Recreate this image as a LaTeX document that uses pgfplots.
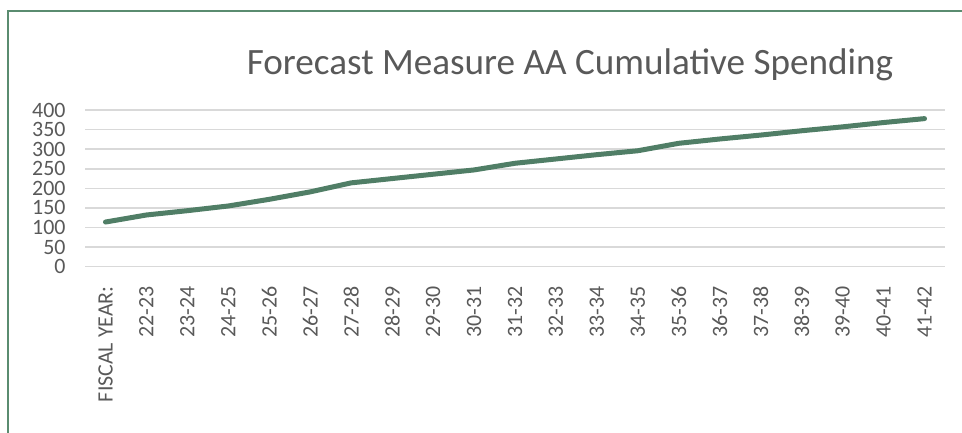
\documentclass[border=0pt]{standalone}
\usepackage{pgfplots}
\pgfplotsset{compat=1.18}
\usepackage{fontspec}
\setmainfont{Carlito}
\definecolor{linegreen}{RGB}{80,126,102}
\definecolor{framegreen}{RGB}{90,140,112}
\definecolor{txtgray}{RGB}{89,89,89}
\definecolor{gridgray}{RGB}{217,217,217}
\begin{document}
\begin{tikzpicture}
\path[use as bounding box] (0,0) rectangle (962bp,433bp);
\draw[framegreen, line width=1.5bp] (8bp,0) -- (8bp,422bp) -- (962bp,422bp);
\node[anchor=base, text=txtgray, font=\fontsize{37.3}{37.3}\selectfont] at (570bp,358bp)
  {Forecast Measure AA Cumulative Spending};
\begin{axis}[
  at={(85bp,166.3bp)}, anchor=south west,
  scale only axis, width=860bp, height=156.7bp,
  xmin=-0.5, xmax=20.5, ymin=0, ymax=400,
  ytick={0,50,...,400},
  xtick={0,...,20},
  xticklabels={FISCAL YEAR:,22-23,23-24,24-25,25-26,26-27,27-28,28-29,29-30,30-31,31-32,32-33,33-34,34-35,35-36,36-37,37-38,38-39,39-40,40-41,41-42},
  ymajorgrids, grid style={gridgray, line width=1.5bp},
  axis line style={draw=none},
  major tick length=0pt,
  /pgf/number format/assume math mode=true,
  tick label style={text=txtgray, font=\fontsize{22}{22}\selectfont},
  yticklabel style={xshift=-16bp, inner ysep=0pt},
  xticklabel style={rotate=90, anchor=east, xshift=-16bp},
]
\addplot[linegreen, line width=5bp, line join=round, line cap=round] coordinates {
  (0,114) (1,132) (2,143) (3,155) (4,172) (5,191) (6,214) (7,225) (8,236) (9,247)
  (10,264) (11,275) (12,286) (13,296) (14,315) (15,326) (16,336) (17,347) (18,357)
  (19,368) (20,378)
};
\end{axis}
\end{tikzpicture}
\end{document}
